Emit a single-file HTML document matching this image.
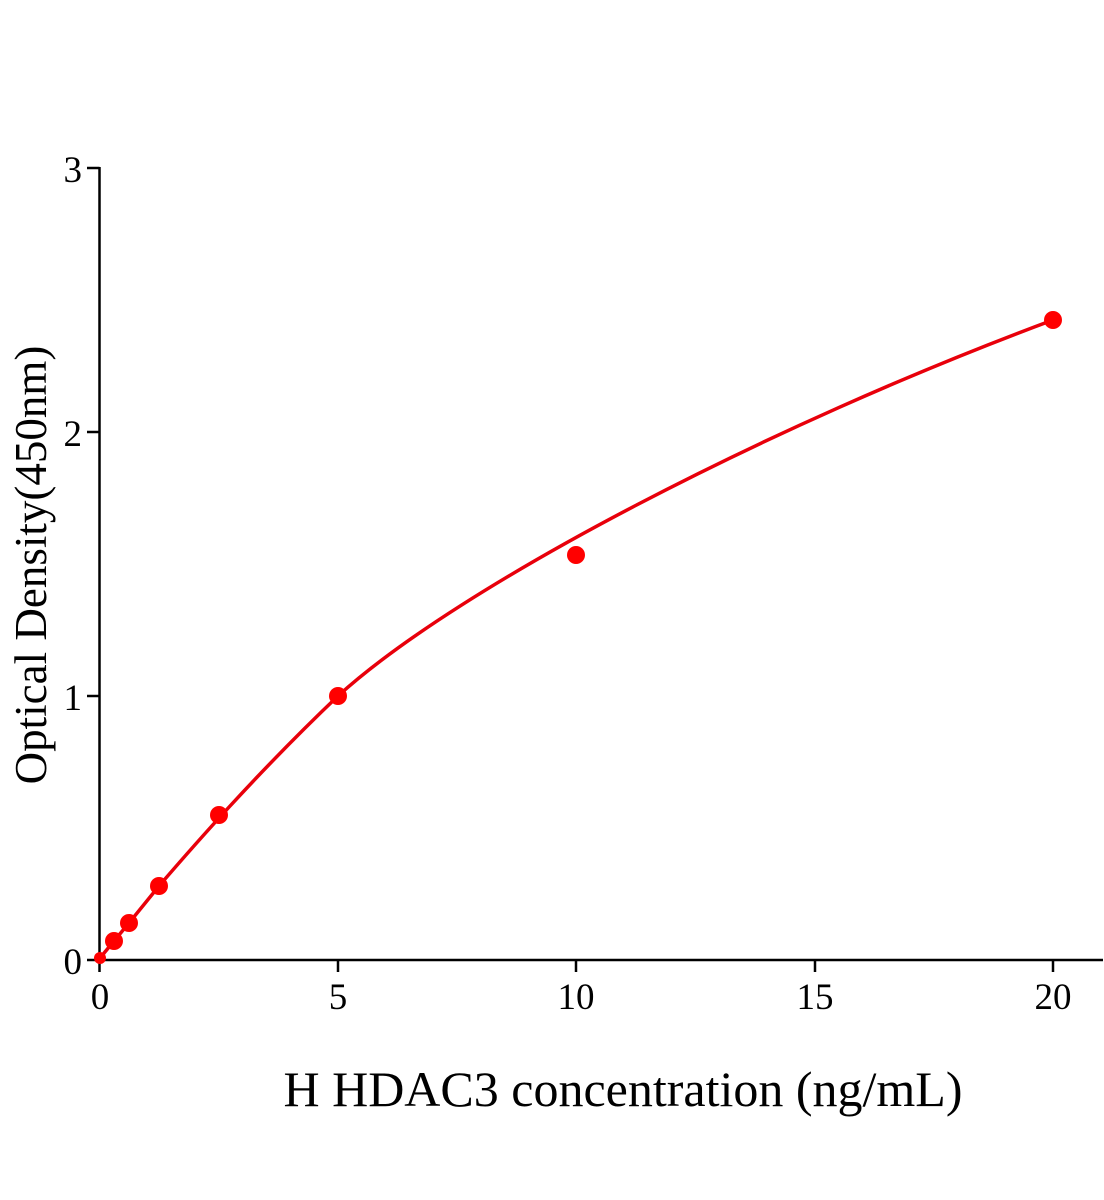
<!DOCTYPE html>
<html><head><style>body{margin:0;background:#fff}svg{display:block}text{font-family:"Liberation Serif",serif;fill:#000}</style></head>
<body>
<svg width="1104" height="1200" viewBox="0 0 1104 1200" xmlns="http://www.w3.org/2000/svg">
<g stroke="#000" stroke-width="2.5" fill="none">
<line x1="99.5" y1="167" x2="99.5" y2="972"/>
<line x1="87" y1="960" x2="1103" y2="960"/>
<line x1="87" y1="168" x2="99.5" y2="168"/>
<line x1="87" y1="432" x2="99.5" y2="432"/>
<line x1="87" y1="696" x2="99.5" y2="696"/>
<line x1="338" y1="960" x2="338" y2="972"/>
<line x1="576" y1="960" x2="576" y2="972"/>
<line x1="815" y1="960" x2="815" y2="972"/>
<line x1="1053" y1="960" x2="1053" y2="972"/>
</g>
<g font-size="37" text-anchor="end">
<text x="82" y="182">3</text><text x="82" y="446">2</text><text x="82" y="710">1</text><text x="82" y="974">0</text>
</g>
<g font-size="37" text-anchor="middle">
<text x="100" y="1009">0</text><text x="338" y="1009">5</text><text x="576" y="1009">10</text><text x="815" y="1009">15</text><text x="1053" y="1009">20</text>
</g>
<text x="623" y="1106" font-size="50" text-anchor="middle">H HDAC3 concentration (ng/mL)</text>
<text transform="translate(46,565) rotate(-90)" font-size="45" text-anchor="middle">Optical Density(450nm)</text>
<path d="M100,958 L114,941 L129,923 L159,886 C190,850 255,775 338,696 C460,585 770,425 1053,320" stroke="#e8000b" stroke-width="3.5" fill="none"/>
<g fill="#f00">
<circle cx="100" cy="958" r="6"/>
<circle cx="114" cy="941" r="9"/><circle cx="129" cy="923" r="9"/><circle cx="159" cy="886" r="9"/>
<circle cx="219" cy="815" r="9"/><circle cx="338" cy="696" r="9"/><circle cx="576" cy="555" r="9"/><circle cx="1053" cy="320" r="9"/>
</g>
</svg>
</body></html>
